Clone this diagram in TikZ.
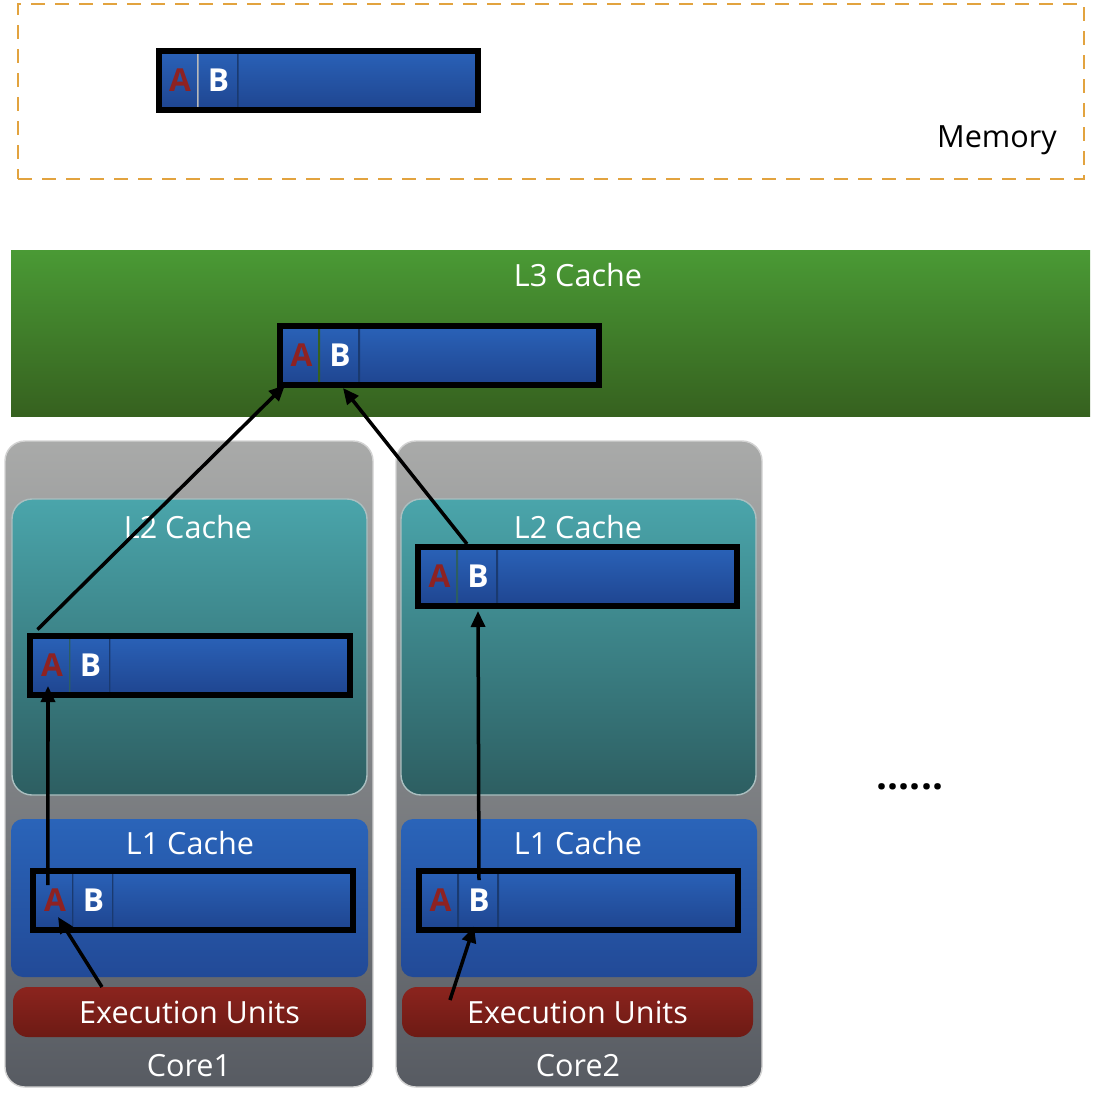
\documentclass[tikz,border=0pt]{standalone}
\usepackage{fontspec}
\setmainfont{Open Sans}
\usetikzlibrary{arrows.meta,shadings}
\definecolor{memorange}{HTML}{E2A33F}
\definecolor{greentop}{HTML}{4A9A35}
\definecolor{greenbot}{HTML}{36611F}
\definecolor{coretop}{HTML}{A9AAA9}
\definecolor{corebot}{HTML}{575B62}
\definecolor{tealtop}{HTML}{4AA5AB}
\definecolor{tealbot}{HTML}{2D5E61}
\definecolor{bluetop}{HTML}{2A64B9}
\definecolor{bluebot}{HTML}{224A97}
\definecolor{linetop}{HTML}{2A62B8}
\definecolor{linebot}{HTML}{1F4590}
\definecolor{redtop}{HTML}{8B241E}
\definecolor{redbot}{HTML}{6D1A14}
\definecolor{celldiv}{HTML}{1A3A70}
\definecolor{abred}{HTML}{8E2222}
\begin{document}
\begin{tikzpicture}
      [outer sep=0pt, font=\fontsize{8.7}{10}\selectfont,
      mem box/.style={draw=memorange,line width=0.02cm,dash pattern=on 0.14cm off 0.1cm},
      l3 box/.style={top color=greentop,bottom color=greenbot},
      core box/.style={rounded corners=0.2cm,top color=coretop,bottom color=corebot,draw=gray!35,line width=0.4pt},
      l2 box/.style={rounded corners=0.2cm,top color=tealtop,bottom color=tealbot,draw=tealbot!40,line width=0.4pt},
      l1 box/.style={rounded corners=0.12cm,top color=bluetop,bottom color=bluebot},
      exec box/.style={rounded corners=0.15cm,top color=redtop,bottom color=redbot,text=white},
      cache line/.style={draw=black,line width=0.06cm,top color=linetop,bottom color=linebot,
        minimum width=3.19cm,minimum height=0.59cm},
      divider/.style={path picture={\draw[#1,line width=1pt]
        (path picture bounding box.north east) -- (path picture bounding box.south east);}},
      divider/.default=celldiv,
      cell/.style={divider,inner sep=0pt,minimum height=0.53cm,
        anchor=west,font=\fontsize{9}{10}\selectfont\bfseries},
      cell a/.style={cell,minimum width=0.37cm,text=abred},
      cell b/.style={cell,minimum width=0.40cm,text=white},
      caption/.style={text=white},
      flow/.style={-{Triangle[length=0.16cm,width=0.14cm]},line width=0.035cm,black}]
      \useasboundingbox (0,0) rectangle (10.97,-10.94);
      % memory
      \node[mem box, minimum width=10.66cm, minimum height=1.75cm] (memory) at (5.51,-0.915) {};
      \node[text=black] (memtext) at (9.97,-1.40) {Memory};
      \node[cache line] (memline) at (3.18,-0.80) {};
      \node[cell a, divider=gray!55] (memline-a) at ([xshift=0.03cm]memline.west) {A};
      \node[cell b] (memline-b) at (memline-a.east) {B};
      % shared L3
      \node[l3 box, minimum width=10.79cm, minimum height=1.66cm] (l3) at (5.505,-3.33) {};
      \node[caption] (l3text) at (5.78,-2.75) {L3 Cache};
      \node[cache line] (l3line) at (4.395,-3.555) {};
      \node[cell a, divider=greenbot] (l3line-a) at ([xshift=0.03cm]l3line.west) {A};
      \node[cell b] (l3line-b) at (l3line-a.east) {B};
      % cores
      \node[core box, minimum width=3.68cm, minimum height=6.46cm] (core1) at (1.89,-7.64) {};
      \node[core box, minimum width=3.66cm, minimum height=6.46cm] (core2) at (5.79,-7.64) {};
      \node[l2 box, minimum width=3.55cm, minimum height=2.96cm] (l2box1) at (1.895,-6.47) {};
      \node[l2 box, minimum width=3.55cm, minimum height=2.96cm] (l2box2) at (5.785,-6.47) {};
      \node[caption] (l2text1) at (1.88,-5.27) {L2 Cache};
      \node[caption] (l2text2) at (5.78,-5.27) {L2 Cache};
      \node[l1 box, minimum width=3.57cm, minimum height=1.58cm] (l1box1) at (1.895,-8.98) {};
      \node[l1 box, minimum width=3.56cm, minimum height=1.58cm] (l1box2) at (5.79,-8.98) {};
      \node[caption] (l1text1) at (1.90,-8.43) {L1 Cache};
      \node[caption] (l1text2) at (5.78,-8.43) {L1 Cache};
      \node[exec box, minimum width=3.53cm, minimum height=0.50cm] (exec1) at (1.895,-10.12) {Execution Units};
      \node[exec box, minimum width=3.51cm, minimum height=0.50cm] (exec2) at (5.775,-10.12) {Execution Units};
      \node[caption] (core1text) at (1.89,-10.66) {Core1};
      \node[caption] (core2text) at (5.78,-10.66) {Core2};
      \node[font=\fontsize{11}{12}\selectfont\bfseries] (more) at (9.10,-7.87) {......};
      % cache lines in the cores
      \node[cache line] (l2line1) at (1.90,-6.65) {};
      \node[cell a, divider=tealbot] (l2line1-a) at ([xshift=0.03cm]l2line1.west) {A};
      \node[cell b] (l2line1-b) at (l2line1-a.east) {B};
      \node[cache line] (l2line2) at (5.775,-5.765) {};
      \node[cell a, divider=tealbot] (l2line2-a) at ([xshift=0.03cm]l2line2.west) {A};
      \node[cell b] (l2line2-b) at (l2line2-a.east) {B};
      \node[cache line] (l1line1) at (1.93,-9.00) {};
      \node[cell a] (l1line1-a) at ([xshift=0.03cm]l1line1.west) {A};
      \node[cell b] (l1line1-b) at (l1line1-a.east) {B};
      \node[cache line] (l1line2) at (5.785,-9.00) {};
      \node[cell a] (l1line2-a) at ([xshift=0.03cm]l1line2.west) {A};
      \node[cell b] (l1line2-b) at (l1line2-a.east) {B};
      % write back paths
      \draw[flow] ([xshift=-0.875cm]exec1.north) -- ([shift={(0.03,-0.17)}]l1line1-a.center);
      \draw[flow] ([shift={(-0.07,0.15)}]l1line1-a.center) -- ([shift={(-0.04,-0.21)}]l2line1-a.center);
      \draw[flow] ([shift={(0.07,0.06)}]l2line1.north west) -- ([xshift=0.05cm]l3line.south west);
      \draw[flow] ([shift={(-1.275,-0.13)}]exec2.north) -- ([xshift=-0.05cm]l1line2-b.south);
      \draw[flow] ([yshift=0.2cm]l1line2-b.center) -- ([yshift=-0.08cm]l2line2-b.south);
      \draw[flow] ([shift={(-0.11,0.06)}]l2line2-b.north) -- ([shift={(0.03,-0.06)}]l3line-b.south);
    \end{tikzpicture}
\end{document}
